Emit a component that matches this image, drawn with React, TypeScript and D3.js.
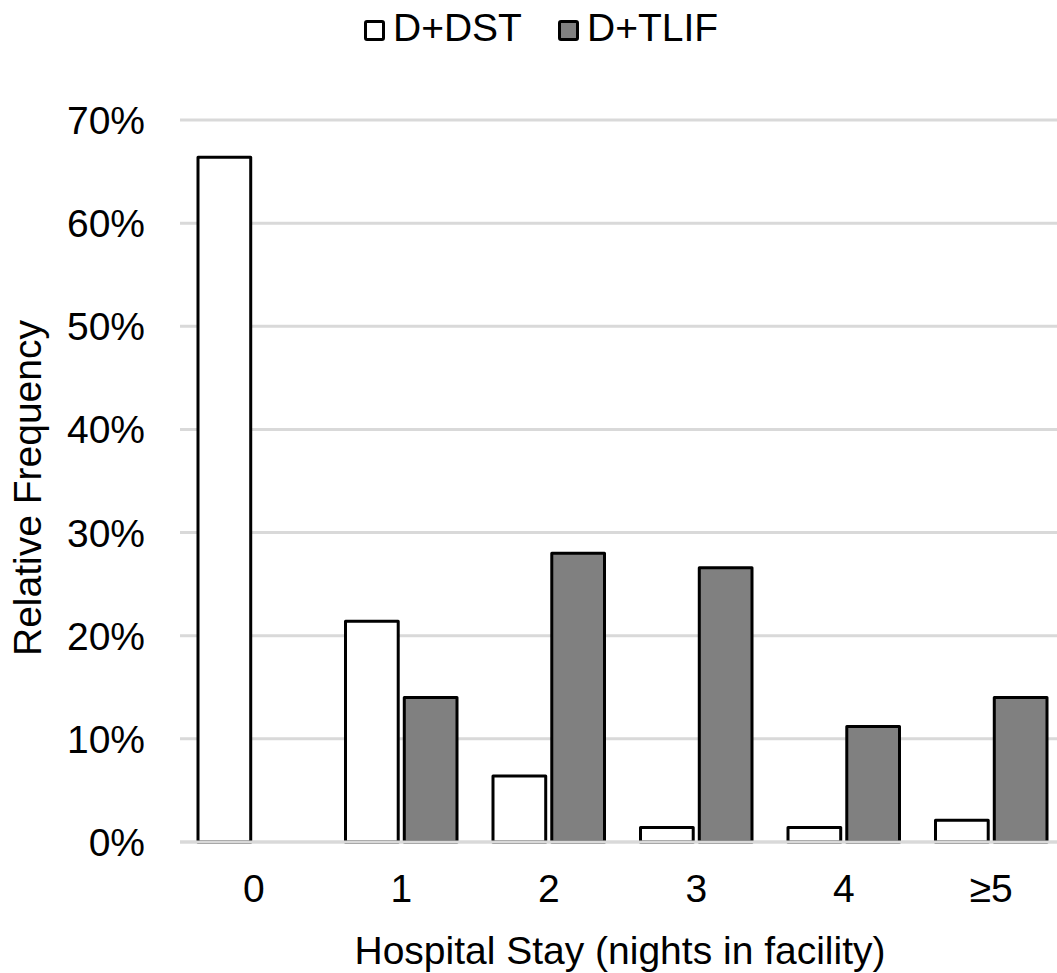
import React from "react";
import * as d3 from "d3";

const categories = ["0", "1", "2", "3", "4", "≥5"];
const seriesNames = ["D+DST", "D+TLIF"];
const dstValues = [66.4, 21.4, 6.4, 1.4, 1.4, 2.1];
const tlifValues = [0, 14.0, 28.0, 26.6, 11.2, 14.0];
const yTicks = [0, 10, 20, 30, 40, 50, 60, 70];
const seriesColors = ["#ffffff", "#808080"];

const W = 1057;
const H = 973;
const FONT = "'Liberation Sans', Arial, sans-serif";
const FS = 39;

export default function App() {
  const left = 180;
  const bandW = 147.5;
  const x = d3
    .scaleBand<string>()
    .domain(categories)
    .range([left, left + bandW * categories.length])
    .paddingInner(0)
    .paddingOuter(0);
  const inner = d3
    .scaleBand<string>()
    .domain(seriesNames)
    .range([18, bandW - 18])
    .paddingInner(11.5 / 111.5);
  const y = d3.scaleLinear().domain([0, 70]).range([842, 120]);
  const series = [dstValues, tlifValues];

  return (
    <svg
      width={W}
      height={H}
      style={{ position: "absolute", left: 0, top: 0, background: "#fff" }}
      fontFamily={FONT}
    >
      {/* gridlines */}
      {yTicks.map((t) => (
        <line
          key={"g" + t}
          x1={left}
          x2={W}
          y1={y(t)}
          y2={y(t)}
          stroke="#d9d9d9"
          strokeWidth={3}
        />
      ))}
      {/* bars */}
      {series.map((vals, si) =>
        vals.map((v, ci) => {
          const bx = (x(categories[ci]) as number) + (inner(seriesNames[si]) as number);
          const bw = inner.bandwidth();
          if (v <= 0) return null;
          return (
            <rect
              key={`b${si}-${ci}`}
              x={bx}
              y={y(v)}
              width={bw}
              height={y(0) - y(v)}
              fill={seriesColors[si]}
              stroke="#000"
              strokeWidth={3}
              strokeLinejoin="round"
            />
          );
        })
      )}
      {/* axis line */}
      <line x1={left} x2={W} y1={y(0)} y2={y(0)} stroke="#d9d9d9" strokeWidth={3} />
      {/* y tick labels */}
      {yTicks.map((t) => (
        <text
          key={"yt" + t}
          x={145}
          y={y(t) + 14}
          textAnchor="end"
          fontSize={FS}
          fill="#000"
        >
          {t + "%"}
        </text>
      ))}
      {/* x tick labels */}
      {categories.map((c) => (
        <text
          key={"xt" + c}
          x={(x(c) as number) + x.bandwidth() / 2}
          y={902}
          textAnchor="middle"
          fontSize={FS}
          fill="#000"
        >
          {c}
        </text>
      ))}
      {/* axis titles */}
      <text x={620} y={964} textAnchor="middle" fontSize={FS} fill="#000">
        Hospital Stay (nights in facility)
      </text>
      <text
        transform={`translate(41,${(y(0) + y(70)) / 2 + 7}) rotate(-90)`}
        textAnchor="middle"
        fontSize={FS}
        fill="#000"
      >
        Relative Frequency
      </text>
      {/* legend */}
      {seriesNames.map((n, i) => {
        const lx = [364, 558][i];
        return (
          <g key={"lg" + n}>
            <rect
              x={lx + 1.5}
              y={21.5}
              width={18}
              height={18}
              fill={seriesColors[i]}
              stroke="#000"
              strokeWidth={3}
              rx={1.5}
            />
            <text x={lx + 29} y={41} fontSize={FS} fill="#000">
              {n}
            </text>
          </g>
        );
      })}
    </svg>
  );
}
